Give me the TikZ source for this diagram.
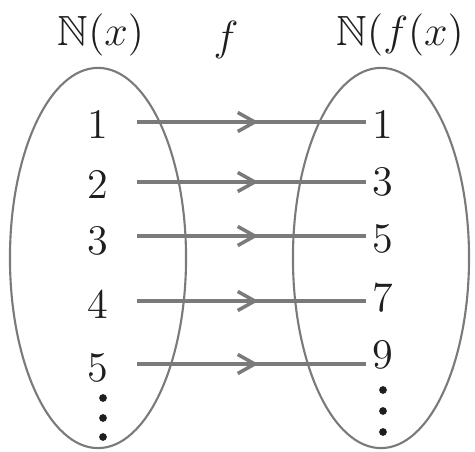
\documentclass[tikz,border=0pt]{standalone}
\usepackage{amssymb}
\usetikzlibrary{shapes.geometric, arrows.meta, decorations.markings, positioning}
\definecolor{Line}{HTML}{7A7A7A}
\definecolor{Ink}{HTML}{1E1E1E}

\begin{document}
\begin{tikzpicture}[
            x=0.01cm, y=-0.01cm,
            set/.style={
                ellipse,
                draw=Line,
                semithick,
                minimum width=1.76cm,
                minimum height=3.8cm,
                inner sep=0pt
            },
            num/.style={font=\fontsize{12}{14}\selectfont, text=Ink, inner sep=1pt},
            title/.style={font=\fontsize{12}{14}\selectfont, text=Ink, inner sep=1pt},
            dot/.style={circle, fill=Ink, inner sep=0pt, minimum size=2.2pt},
            maparrow/.style={
                line width=1pt,
                color=Line,
                decoration={markings,
                    mark=at position 0.53 with {\arrow{Straight Barb[length=0.17cm, width=0.19cm, line width=1pt]}}},
                postaction={decorate}
            }
        ]
            \useasboundingbox (0,0) rectangle (475,452);

            % the two sets
            \node[set] (dom) at (98,258) {};
            \node[set] (cod) at (381,258) {};

            % titles
            \node[title] (domname) at (101,35) {$\mathbb{N}(x)$};
            \node[title] (fname) at (226,40) {$f$};
            \node[title, anchor=east] (codname) at (468,35) {$\mathbb{N}(f(x)$};

            % elements of N(x)
            \node[num] (l1) at (98,124) {1};
            \node[num] (l2) at (98,184) {2};
            \node[num] (l3) at (98,241) {3};
            \node[num] (l4) at (98,304) {4};
            \node[num] (l5) at (98,368) {5};
            \foreach \y [count=\k] in {398,418,437}
                \node[dot] (ld\k) at (103,\y) {};

            % elements of N(f(x))
            \node[num] (r1) at (383,124) {1};
            \node[num] (r3) at (383,182) {3};
            \node[num] (r5) at (383,239) {5};
            \node[num] (r7) at (383,298) {7};
            \node[num] (r9) at (383,355) {9};
            \foreach \y [count=\k] in {390,411,432}
                \node[dot] (rd\k) at (383,\y) {};

            % ends of the arrows
            \coordinate (a1) at (137,122); \coordinate (b1) at (366,122);
            \coordinate (a2) at (137,182); \coordinate (b2) at (366,182);
            \coordinate (a3) at (137,236); \coordinate (b3) at (366,236);
            \coordinate (a4) at (137,301); \coordinate (b4) at (366,301);
            \coordinate (a5) at (137,364); \coordinate (b5) at (366,364);

            \foreach \i in {1,...,5}
                \draw[maparrow] (a\i) -- (b\i);
        \end{tikzpicture}
\end{document}
